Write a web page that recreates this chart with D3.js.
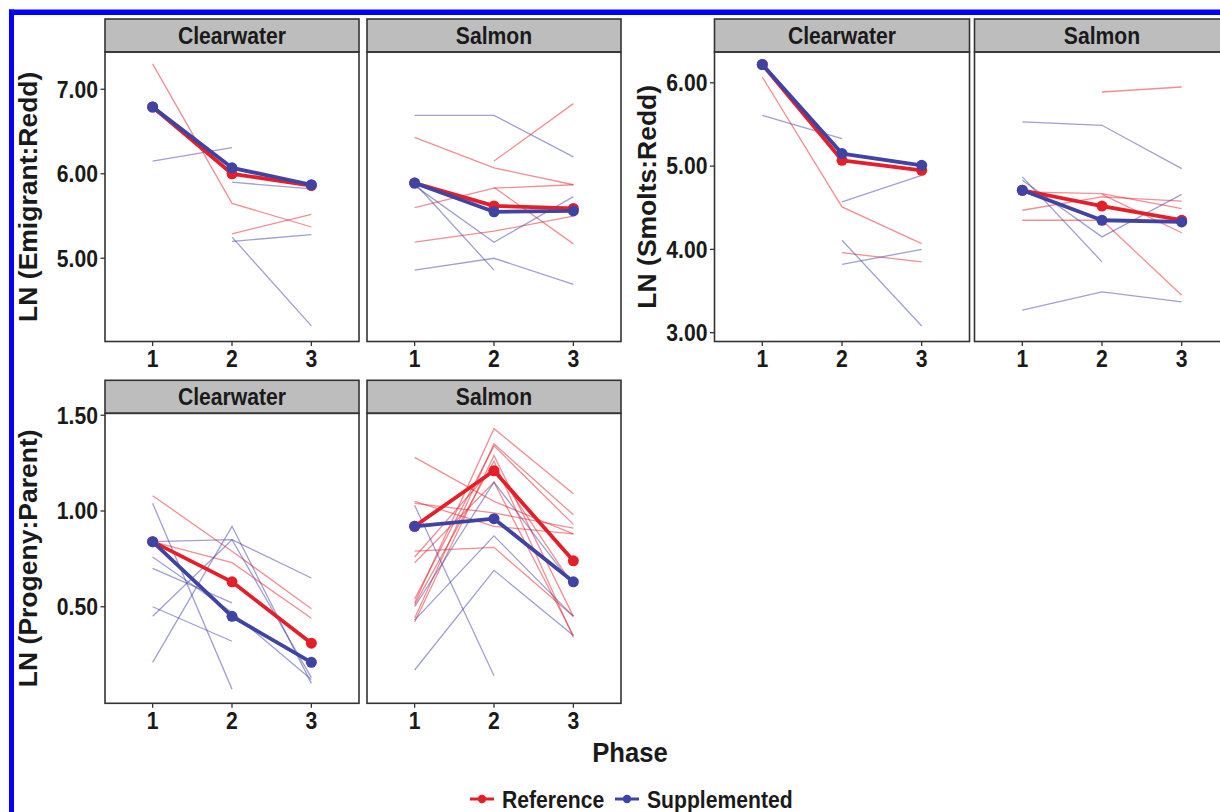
<!DOCTYPE html>
<html>
<head>
<meta charset="utf-8">
<script src="https://cdn.jsdelivr.net/npm/d3@7"></script>
<style>
  html, body { margin: 0; padding: 0; background: #fff; }
  svg { display: block; font-family: "Liberation Sans", Arial, sans-serif; font-weight: bold; }
</style>
</head>
<body>
<svg id="chart" width="1220" height="812"></svg>
<script>
const phases = [1, 2, 3];
const rivers = ['Clearwater', 'Salmon'];
const groups = ['Reference', 'Supplemented'];

// LN (Emigrant:Redd)
const emiTicks = [5, 6, 7];
const emiClwRefMean = [6.79, 6.00, 5.86];
const emiClwSupMean = [6.79, 6.07, 5.87];
const emiClwRefLines = [[7.30, 5.65, 5.37], [null, 5.29, 5.52]];
const emiClwSupLines = [[6.15, 6.31, null], [null, 5.90, 5.82], [null, 5.20, 5.28], [null, 5.25, 4.20]];
const emiSalRefMean = [5.89, 5.62, 5.59];
const emiSalSupMean = [5.89, 5.55, 5.56];
const emiSalRefLines = [[6.43, 6.07, 5.87], [5.60, 5.83, 5.87], [null, 5.84, 5.17], [null, 6.15, 6.83], [5.19, 5.32, 5.50]];
const emiSalSupLines = [[6.69, 6.69, 6.20], [5.89, 4.86, null], [5.86, 5.19, 5.73], [4.86, 5.00, 4.69]];

// LN (Smolts:Redd)
const smoTicks = [3, 4, 5, 6];
const smoClwRefMean = [6.22, 5.07, 4.95];
const smoClwSupMean = [6.22, 5.15, 5.01];
const smoClwRefLines = [[6.07, 4.51, 4.07], [null, 3.96, 3.85]];
const smoClwSupLines = [[5.61, 5.33, null], [null, 4.57, 4.89], [null, 3.82, 4.00], [null, 4.11, 3.08]];
const smoSalRefMean = [4.71, 4.52, 4.35];
const smoSalSupMean = [4.71, 4.35, 4.33];
const smoSalRefLines = [[4.69, 4.67, 4.49], [4.47, 4.63, 4.58], [4.35, 4.35, 3.45], [null, 4.66, 4.20], [null, 5.89, 5.95]];
const smoSalSupLines = [[5.53, 5.49, 4.97], [4.87, 3.85, null], [4.83, 4.15, 4.66], [3.27, 3.49, 3.37]];

// LN (Progeny:Parent)
const proTicks = [0.5, 1.0, 1.5];
const proClwRefMean = [0.84, 0.63, 0.31];
const proClwSupMean = [0.84, 0.45, 0.21];
const proClwRefLines = [[1.08, 0.79, 0.49], [0.84, 0.73, 0.44]];
const proClwSupLines = [[1.04, 0.07, null], [0.84, 0.85, 0.65], [0.21, 0.92, 0.10], [0.45, 0.85, 0.13],
  [0.76, 0.47, 0.12], [0.70, 0.52, null], [0.50, 0.32, null]];
const proSalRefMean = [0.92, 1.21, 0.74];
const proSalSupMean = [0.92, 0.96, 0.63];
const proSalRefLines = [
  [1.28, 1.05, 0.88], [1.04, 0.99, 0.91], [0.79, 0.81, 0.45],
  [0.52, 1.43, 1.09], [0.44, 1.35, 0.98], [0.54, 1.34, 0.93],
  [0.42, 1.29, 0.45], [0.51, 1.26, 0.34], [0.76, 1.23, 0.61],
  [0.73, 1.15, 0.35], [1.05, 0.92, 0.88]
];
const proSalSupLines = [[1.03, 0.14, null], [0.17, 0.69, 0.35], [0.43, 0.87, 0.45], [0.50, 1.15, 0.61]];

const colors = { Reference: '#e41f2a', Supplemented: '#3f44a4' };
const sx = 0.9; // the original figure is slightly squeezed horizontally

const svg = d3.select('#chart');

// blue frame (top and left edges)
svg.append('rect').attr('x', 9).attr('y', 9.5).attr('width', 1211).attr('height', 5.5).attr('fill', '#0000ff');
svg.append('rect').attr('x', 9).attr('y', 9.5).attr('width', 5).attr('height', 803).attr('fill', '#0000ff');

function hText(parent, x, y, str, size, anchor) {
  return parent
    .append('text')
    .attr('transform', `translate(${x},${y}) scale(${sx},1)`)
    .attr('text-anchor', anchor)
    .attr('fill', '#1a1a1a')
    .style('font-size', size + 'px')
    .text(str);
}

const blocks = [
  {
    title: 'LN (Emigrant:Redd)', ticks: emiTicks, domain: [4.015, 7.441], top: 52, bottom: 341.5,
    cols: [[105, 359], [367, 621]], titleX: 37, tickLabelY: 366.5,
    data: {
      Clearwater: { refMean: emiClwRefMean, supMean: emiClwSupMean, refLines: emiClwRefLines, supLines: emiClwSupLines },
      Salmon: { refMean: emiSalRefMean, supMean: emiSalSupMean, refLines: emiSalRefLines, supLines: emiSalSupLines },
    },
  },
  {
    title: 'LN (Smolts:Redd)', ticks: smoTicks, domain: [2.894, 6.37], top: 52, bottom: 341.5,
    cols: [[714.5, 969.5], [974.5, 1229.5]], titleX: 656, tickLabelY: 366.5,
    data: {
      Clearwater: { refMean: smoClwRefMean, supMean: smoClwSupMean, refLines: smoClwRefLines, supLines: smoClwSupLines },
      Salmon: { refMean: smoSalRefMean, supMean: smoSalSupMean, refLines: smoSalRefLines, supLines: smoSalSupLines },
    },
  },
  {
    title: 'LN (Progeny:Parent)', ticks: proTicks, domain: [-0.004, 1.51], top: 413.3, bottom: 703.3,
    cols: [[105, 359], [367, 621]], titleX: 37, tickLabelY: 729,
    data: {
      Clearwater: { refMean: proClwRefMean, supMean: proClwSupMean, refLines: proClwRefLines, supLines: proClwSupLines },
      Salmon: { refMean: proSalRefMean, supMean: proSalSupMean, refLines: proSalRefLines, supLines: proSalSupLines },
    },
  },
];

const stripH = 33;

blocks.forEach((b) => {
  const y = d3.scaleLinear().domain(b.domain).range([b.bottom, b.top]);
  const yFmt = d3.format('.2f');

  // y title
  svg
    .append('text')
    .attr('transform', `translate(${b.titleX},${(b.top + b.bottom) / 2}) rotate(-90)`)
    .attr('text-anchor', 'middle')
    .attr('fill', '#1a1a1a')
    .style('font-size', '26.5px')
    .text(b.title);

  // y axis ticks on first panel
  const left = b.cols[0][0];
  b.ticks.forEach((t) => {
    svg
      .append('line')
      .attr('x1', left - 4.5)
      .attr('x2', left)
      .attr('y1', y(t))
      .attr('y2', y(t))
      .attr('stroke', '#333')
      .attr('stroke-width', 1.3);
    hText(svg, left - 7, y(t) + 8.3, yFmt(t), 23.5, 'end');
  });

  rivers.forEach((river, ci) => {
    const [x0, x1] = b.cols[ci];
    const x = d3.scalePoint().domain(phases).range([x0, x1]).padding(0.6);
    const d = b.data[river];
    const g = svg.append('g');

    // panel background and strip
    g.append('rect')
      .attr('x', x0).attr('y', b.top).attr('width', x1 - x0).attr('height', b.bottom - b.top)
      .attr('fill', '#fff');
    g.append('rect')
      .attr('x', x0).attr('y', b.top - stripH).attr('width', x1 - x0).attr('height', stripH)
      .attr('fill', '#bdbdbd').attr('stroke', '#333').attr('stroke-width', 1.6);
    hText(g, (x0 + x1) / 2, b.top - stripH / 2 + 8.3, river, 23.5, 'middle');

    const line = d3
      .line()
      .defined((v) => v !== null)
      .x((v, i) => x(phases[i]))
      .y((v) => y(v));

    // individual thin lines
    [['Reference', d.refLines], ['Supplemented', d.supLines]].forEach(([grp, lines]) => {
      g.selectAll(null)
        .data(lines)
        .enter()
        .append('path')
        .attr('d', line)
        .attr('fill', 'none')
        .attr('stroke', colors[grp])
        .attr('stroke-opacity', 0.5)
        .attr('stroke-width', 1.3);
    });

    // group means
    [['Reference', d.refMean], ['Supplemented', d.supMean]].forEach(([grp, vals]) => {
      g.append('path')
        .attr('d', line(vals))
        .attr('fill', 'none')
        .attr('stroke', colors[grp])
        .attr('stroke-width', 3.8)
        .attr('stroke-linejoin', 'round');
      g.selectAll(null)
        .data(vals)
        .enter()
        .append('circle')
        .attr('cx', (v, i) => x(phases[i]))
        .attr('cy', (v) => y(v))
        .attr('r', 5.5)
        .attr('fill', colors[grp]);
    });

    // panel border
    g.append('rect')
      .attr('x', x0).attr('y', b.top).attr('width', x1 - x0).attr('height', b.bottom - b.top)
      .attr('fill', 'none').attr('stroke', '#333').attr('stroke-width', 1.6);

    // x ticks
    phases.forEach((p) => {
      g.append('line')
        .attr('x1', x(p)).attr('x2', x(p))
        .attr('y1', b.bottom).attr('y2', b.bottom + 4.5)
        .attr('stroke', '#333').attr('stroke-width', 1.3);
      hText(g, x(p), b.tickLabelY, String(p), 23.5, 'middle');
    });
  });
});

// x title
hText(svg, 630, 762, 'Phase', 28.5, 'middle');

// legend
const legendItems = [
  { name: groups[0], x: 470 },
  { name: groups[1], x: 615 },
];
legendItems.forEach((it) => {
  svg.append('line')
    .attr('x1', it.x).attr('x2', it.x + 24)
    .attr('y1', 799).attr('y2', 799)
    .attr('stroke', colors[it.name]).attr('stroke-width', 3);
  svg.append('circle')
    .attr('cx', it.x + 12).attr('cy', 799).attr('r', 4.2)
    .attr('fill', colors[it.name]);
  hText(svg, it.x + 32, 807.5, it.name, 23.5, 'start');
});
</script>
</body>
</html>
